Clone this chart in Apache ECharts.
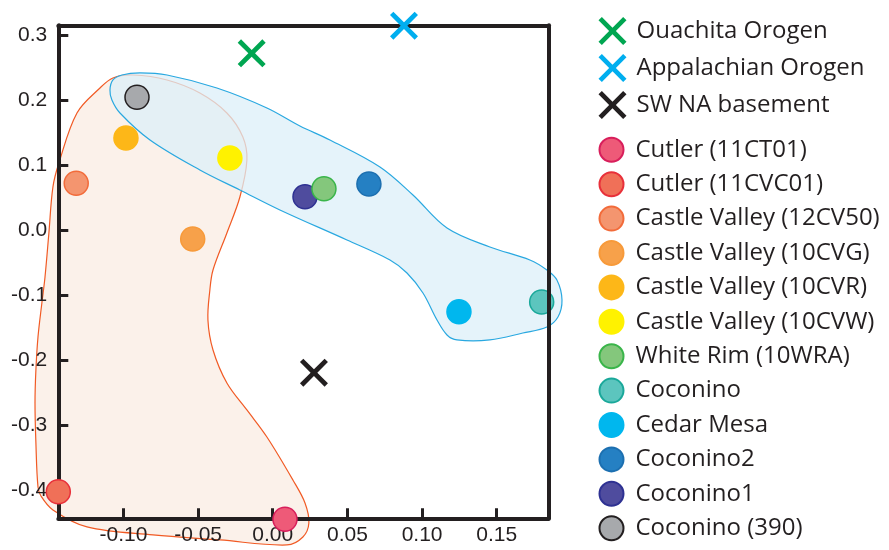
<!DOCTYPE html>
<html>
<head>
<meta charset="utf-8">
<script src="https://cdn.jsdelivr.net/npm/echarts@6/dist/echarts.min.js"></script>
<style>
  html, body { margin: 0; padding: 0; background: #ffffff; }
  #chart { width: 889px; height: 550px; }
</style>
</head>
<body>
<div id="chart"></div>
<script>
// Axis tick positions
const xTicks = [-0.10, -0.05, 0.00, 0.05, 0.10, 0.15];
const yTicks = [-0.4, -0.3, -0.2, -0.1, 0.0, 0.1, 0.2, 0.3];

// Source end-members (crosses)
const sourceNames = ['Ouachita Orogen', 'Appalachian Orogen', 'SW NA basement'];
const sourcePoints = [
  [-0.0141, 0.2716],
  [0.0879, 0.3140],
  [0.0276, -0.2195]
];

// Samples (circles)
const sampleNames = [
  'Cutler (11CT01)', 'Cutler (11CVC01)', 'Castle Valley (12CV50)',
  'Castle Valley (10CVG)', 'Castle Valley (10CVR)', 'Castle Valley (10CVW)',
  'White Rim (10WRA)', 'Coconino', 'Cedar Mesa', 'Coconino2', 'Coconino1',
  'Coconino (390)'
];
const samplePoints = [
  [0.0082, -0.4449],
  [-0.1436, -0.4025],
  [-0.1316, 0.0717],
  [-0.0536, -0.0139],
  [-0.0983, 0.1414],
  [-0.0287, 0.1106],
  [0.0343, 0.0634],
  [0.1801, -0.1108],
  [0.1247, -0.1257],
  [0.0644, 0.0706],
  [0.0216, 0.0511],
  [-0.0909, 0.2039]
];

// Outline of the western (orange) grouping
const orangeHull = [
  [-0.0936, 0.2382], [-0.1070, 0.2336], [-0.1157, 0.2182], [-0.1311, 0.1798],
  [-0.1432, 0.1029], [-0.1472, 0.0660], [-0.1499, -0.0047], [-0.1525, -0.0724],
  [-0.1546, -0.1123], [-0.1572, -0.1646], [-0.1586, -0.2153], [-0.1592, -0.2661],
  [-0.1586, -0.3276], [-0.1572, -0.3952], [-0.1552, -0.4091], [-0.1472, -0.4306],
  [-0.1244, -0.4567], [-0.0802, -0.4690], [-0.0354, -0.4767], [0.0095, -0.4844],
  [0.0202, -0.4721], [0.0242, -0.4506], [0.0216, -0.4198], [0.0135, -0.3845],
  [-0.0039, -0.3184], [-0.0173, -0.2768], [-0.0307, -0.2353], [-0.0400, -0.1846],
  [-0.0434, -0.1385], [-0.0421, -0.0923], [-0.0400, -0.0616], [-0.0307, -0.0047],
  [-0.0220, 0.0506], [-0.0173, 0.1075], [-0.0200, 0.1429], [-0.0307, 0.1798],
  [-0.0488, 0.2105], [-0.0708, 0.2305]
];

// Outline of the eastern (blue) grouping
const blueHull = [
  [-0.1090, 0.2152], [-0.1070, 0.2305], [-0.1010, 0.2382], [-0.0889, 0.2413],
  [-0.0708, 0.2382], [-0.0374, 0.2182], [-0.0039, 0.1875], [0.0182, 0.1598],
  [0.0383, 0.1383], [0.0718, 0.0968], [0.0939, 0.0537], [0.1167, 0.0030],
  [0.1454, -0.0262], [0.1722, -0.0462], [0.1836, -0.0616], [0.1903, -0.0770],
  [0.1937, -0.1077], [0.1910, -0.1339], [0.1836, -0.1492], [0.1675, -0.1585],
  [0.1454, -0.1692], [0.1234, -0.1692], [0.1167, -0.1615], [0.1100, -0.1385],
  [0.1006, -0.0970], [0.0899, -0.0662], [0.0785, -0.0462], [0.0497, -0.0155],
  [0.0048, 0.0307], [-0.0220, 0.0614], [-0.0488, 0.0922], [-0.0822, 0.1383],
  [-0.1023, 0.1798], [-0.1077, 0.1998]
];

const sourceColors = ['#00A651', '#00AEEF', '#231F20'];
const sampleFill = ['#EE5A78', '#F07058', '#F4956F', '#F7A14A', '#FDB718', '#FFF200',
                    '#84C77C', '#5CC5BE', '#00B7EE', '#2580C3', '#4F4C9E', '#A7A9AC'];
const sampleBorder = ['#D81E5B', '#E8303A', '#F26B3A', '#F79A3A', '#FDB718', '#FFF200',
                      '#3AB54A', '#1AA89A', '#00B7EE', '#1C6FB0', '#2E3192', '#231F20'];

const INK = '#231F20';
// Filled "X" outline on a 100x100 box
const crossPath = 'path://M0,12L12,0L50,38L88,0L100,12L62,50L100,88L88,100L50,62L12,100L0,88L38,50Z';

function hullSeries(points, fill, stroke, z) {
  return {
    type: 'custom',
    silent: true,
    z: z,
    clip: false,
    data: [[0, 0]],
    renderItem: function (params, api) {
      const pts = points.map(function (p) { return api.coord(p); });
      return {
        type: 'polygon',
        shape: { points: pts, smooth: 0.35 },
        style: { fill: fill, stroke: stroke, lineWidth: 1.2 }
      };
    }
  };
}

const series = [
  hullSeries(orangeHull, 'rgb(251,241,234)', '#F15A24', 1),
  hullSeries(blueHull, 'rgba(220,239,248,0.75)', '#29A8E0', 1.1)
];

sourceNames.forEach(function (name, i) {
  series.push({
    name: name,
    type: 'scatter',
    z: 3,
    clip: false,
    symbol: crossPath,
    symbolSize: 28,
    symbolKeepAspect: true,
    itemStyle: { color: sourceColors[i], opacity: 1 },
    data: [sourcePoints[i]]
  });
});

sampleNames.forEach(function (name, i) {
  series.push({
    name: name,
    type: 'scatter',
    z: name === 'White Rim (10WRA)' ? 4 : 3,
    clip: false,
    symbol: 'circle',
    symbolSize: 24,
    itemStyle: { color: sampleFill[i], borderColor: sampleBorder[i], borderWidth: 1.5, opacity: 1 },
    data: [samplePoints[i]]
  });
});

const labelFont = { fontFamily: 'Liberation Sans, Arial, sans-serif', fontSize: 21, color: INK };
const legendText = { fontFamily: 'Open Sans, sans-serif', fontSize: 24, color: INK };

const option = {
  animation: false,
  backgroundColor: '#ffffff',
  grid: { left: 58.3, right: 340.3, top: 25.3, bottom: 31.7 },
  xAxis: [
    {
      type: 'value', position: 'bottom', min: -0.1436, max: 0.1848, z: 2,
      axisLine: { show: true, onZero: false, lineStyle: { color: INK, width: 4 } },
      axisTick: { show: true, inside: true, length: 10, customValues: xTicks, lineStyle: { color: INK, width: 3 } },
      axisLabel: Object.assign({ customValues: xTicks, margin: 6, formatter: function (v) { return v.toFixed(2); } }, labelFont),
      splitLine: { show: false }
    },
    {
      type: 'value', position: 'top', min: -0.1436, max: 0.1848, z: 2,
      axisLine: { show: true, onZero: false, lineStyle: { color: INK, width: 4 } },
      axisTick: { show: false }, axisLabel: { show: false }, splitLine: { show: false }
    }
  ],
  yAxis: [
    {
      type: 'value', position: 'left', min: -0.4434, max: 0.3146, z: 2,
      axisLine: { show: true, onZero: false, lineStyle: { color: INK, width: 4 } },
      axisTick: { show: true, inside: true, length: 10, customValues: yTicks, lineStyle: { color: INK, width: 3 } },
      axisLabel: Object.assign({ customValues: yTicks, margin: 11, formatter: function (v) { return v.toFixed(1); } }, labelFont),
      splitLine: { show: false }
    },
    {
      type: 'value', position: 'right', min: -0.4434, max: 0.3146, z: 6,
      axisLine: { show: true, onZero: false, lineStyle: { color: INK, width: 4 } },
      axisTick: { show: false }, axisLabel: { show: false }, splitLine: { show: false }
    }
  ],
  legend: [
    {
      orient: 'vertical', left: 598.5, top: 17, padding: 0,
      itemWidth: 38, itemHeight: 28, itemGap: 9,
      selectedMode: false,
      textStyle: legendText,
      data: sourceNames
    },
    {
      orient: 'vertical', left: 598.5, top: 136.8, padding: 0,
      itemWidth: 38, itemHeight: 24, itemGap: 8.4,
      selectedMode: false,
      textStyle: legendText,
      data: sampleNames
    }
  ],
  series: series
};

const chart = echarts.init(document.getElementById('chart'), null, { renderer: 'canvas' });
chart.setOption(option);
</script>
</body>
</html>
